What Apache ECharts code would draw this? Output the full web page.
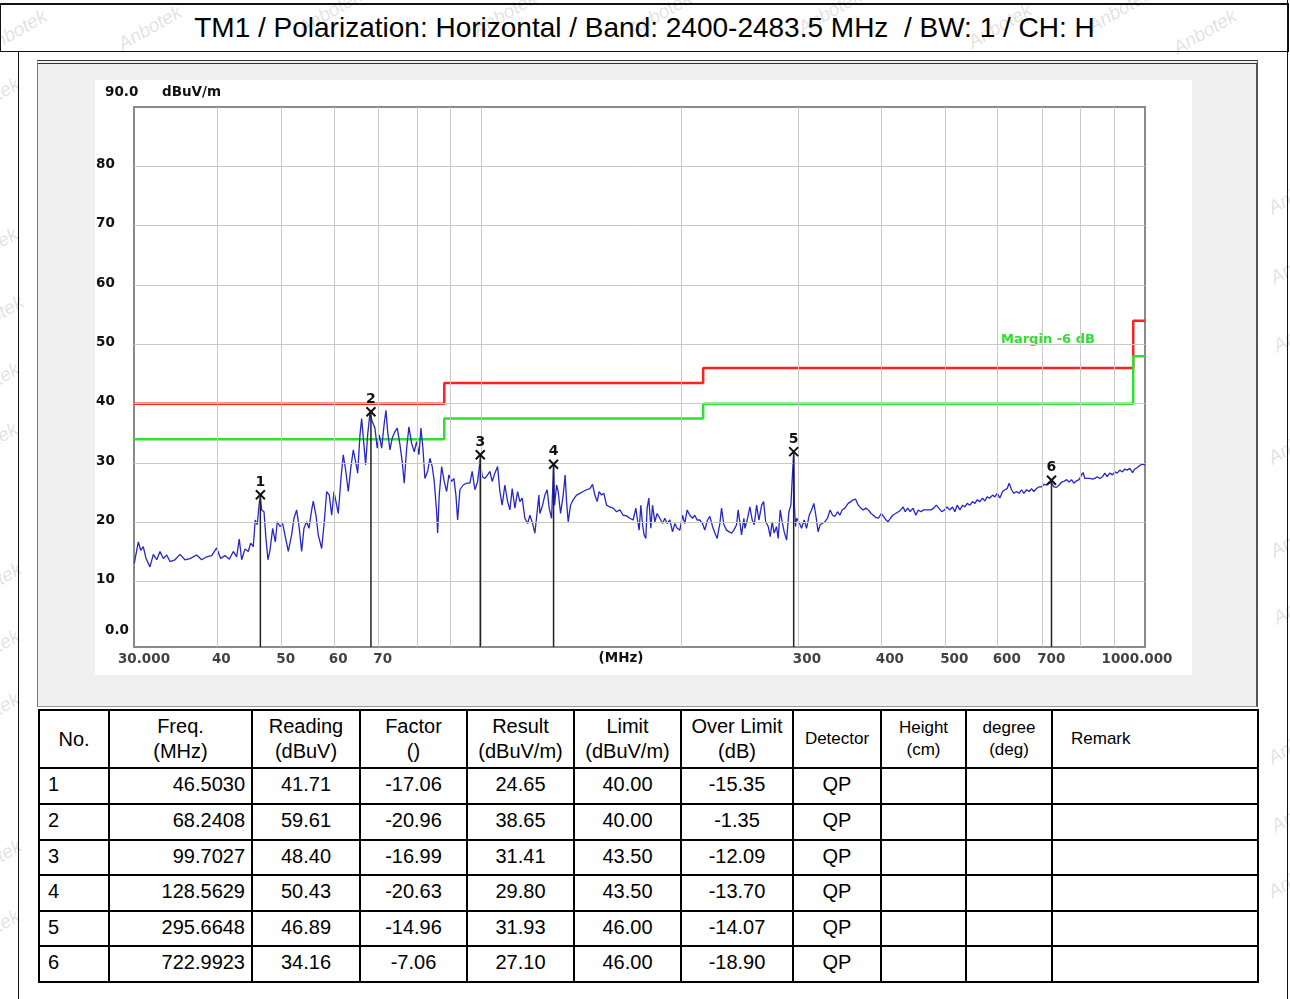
<!DOCTYPE html>
<html>
<head>
<meta charset="utf-8">
<script src="https://cdn.jsdelivr.net/npm/echarts@6/dist/echarts.min.js"></script>
<style>
html,body{margin:0;padding:0;background:#fff;}
body{width:1290px;height:999px;position:relative;overflow:hidden;font-family:'Liberation Sans',Arial,sans-serif;}
.wm{position:absolute;color:rgba(120,120,120,0.22);font:italic 19px 'Liberation Sans',Arial,sans-serif;transform:translate(-50%,-50%) rotate(-30deg);white-space:nowrap;}
#titlebox{position:absolute;left:0;top:3px;width:1289px;height:49px;box-sizing:border-box;border:1px solid #111;border-top:2px solid #111;text-align:center;font-size:28px;line-height:46px;color:#000;white-space:pre;}
.vline{position:absolute;width:0;border-left:1px solid #111;}
#panel{position:absolute;left:37px;top:60px;width:1221px;height:647px;box-sizing:border-box;background:#f0f0f0;border-left:1px solid #777;border-right:2px solid #555;border-top:4px double #333;border-bottom:1px solid #999;}
#inner{position:absolute;left:95px;top:80px;width:1097px;height:595px;background:#fff;}
#chart{position:absolute;left:37px;top:60px;width:1220px;height:646px;}
#tbl{position:absolute;left:38px;top:709px;width:1219px;border-collapse:collapse;table-layout:fixed;font-size:20px;color:#000;background:#fff;}
#tbl td,#tbl th{border:2px solid #000;padding:0;font-weight:normal;overflow:hidden;white-space:nowrap;text-align:center;}
#tbl th{line-height:25px;}
#tbl th.s{font-size:17px;line-height:22px;}
#tbl td{padding-bottom:3px;}
#tbl td.no{text-align:left;padding-left:8px;}
#tbl td.fr{text-align:right;padding-right:6px;}
</style>
</head>
<body>
<div id="wms"></div>
<div id="titlebox">TM1 / Polarization: Horizontal / Band: 2400-2483.5 MHz  / BW: 1 / CH: H</div>
<div class="vline" style="left:18px;top:51px;height:948px;"></div>
<div class="vline" style="left:1287px;top:0;height:999px;"></div>
<div id="panel"></div>
<div id="inner"></div>
<div id="chart"></div>
<table id="tbl"></table>
<script>
// ---------------- data ----------------
const traceData = [
[30.03,13.1],[30.45,16.7],[30.71,15.3],[30.98,15.9],[31.28,13.9],[31.71,12.5],[32.08,14.6],[32.46,13.7],[32.83,15.1],[33.21,13.9],
[33.60,14.5],[33.99,13.4],[34.58,13.7],[35.19,14.6],[35.80,13.7],[36.43,13.9],[37.28,14.5],[37.94,13.7],[38.60,14.2],[39.28,14.4],
[39.96,15.7],[40.52,13.9],[41.13,14.4],[41.75,13.8],[42.33,15.1],[42.83,14.2],[43.22,17.2],[43.58,13.7],[44.08,15.5],[44.59,15.1],
[44.96,16.5],[45.37,15.9],[45.68,20.4],[46.00,19.6],[46.32,23.2],[46.50,24.2],[46.71,22.1],[47.09,21.8],[47.41,17.3],[47.74,13.7],
[48.08,15.3],[48.53,19.0],[48.97,16.7],[49.31,20.1],[49.77,19.3],[50.24,19.8],[50.64,17.9],[51.23,15.1],[51.83,17.9],[52.25,20.7],
[52.74,22.1],[53.22,19.0],[53.66,15.1],[54.09,19.0],[54.60,20.1],[55.04,19.0],[55.56,22.1],[55.87,23.6],[56.39,21.2],[56.84,17.9],
[57.52,15.6],[58.04,20.1],[58.53,25.2],[59.06,24.6],[59.55,21.2],[60.03,25.2],
[60.93,21.5],[61.50,27.4],[61.99,31.4],[62.51,28.8],[63.08,25.2],[63.67,29.4],[64.18,32.2],[64.72,30.2],[65.17,28.3],[65.69,34.7],
[66.07,37.5],[66.53,33.6],[67.00,29.7],[67.46,34.7],[68.00,38.4],[68.55,37.0],[69.19,35.9],[69.75,32.5],[70.24,34.7],[70.82,32.5],
[71.46,36.7],[71.89,38.9],[72.31,35.3],[72.89,32.2],[73.47,34.2],[74.16,35.3],[74.76,35.9],[75.46,33.1],[76.06,30.2],[76.59,26.6],
[77.23,32.5],[77.85,36.1],[78.58,33.3],[79.30,31.9],[79.96,33.6],[80.60,31.4],[81.16,35.9],[81.72,32.5],[82.29,27.4],[83.07,28.6],
[83.73,30.8],[84.40,29.4],[84.99,26.9],[85.70,21.8],[86.00,18.2],[86.48,24.6],[87.20,29.4],[87.99,26.9],[88.72,25.2],[89.43,28.0],
[90.27,26.9],[91.00,27.4],[91.63,24.6],[92.17,20.4],[92.91,25.5],[93.98,26.3],[95.09,26.6],[96.18,26.6],[96.95,28.6],[97.87,25.5],
[98.79,26.9],[99.70,30.6],[100.38,27.7],[101.32,27.4],[102.27,28.0],[103.09,28.6],[103.92,26.9],[104.89,28.3],[105.88,29.4],[106.73,25.2],
[107.58,22.9],[108.59,26.3],[109.62,23.5],[110.50,22.1],[111.38,25.7],[112.43,22.4],[113.48,25.2],[114.39,23.5],[115.31,24.1],[116.39,20.7],
[117.49,19.8],[118.43,21.2],[119.54,19.8],[120.50,18.2],[121.46,21.8],[122.18,24.6],
[122.60,21.5],[123.76,22.9],[124.75,24.6],[125.75,25.5],[126.62,22.4],[127.68,20.7],[128.56,29.5],[129.01,22.9],[129.91,26.3],[130.64,25.2],
[131.73,21.5],[132.92,24.6],[133.84,28.0],[134.50,23.5],[135.24,20.1],[136.37,22.9],[137.61,23.8],[139.24,24.6],[140.84,24.9],[142.46,25.2],
[144.15,25.5],[145.81,25.7],[147.18,26.4],[148.36,24.6],[149.55,23.5],[150.59,25.2],[151.85,24.6],[153.06,24.9],[154.50,22.9],[156.28,22.6],
[158.08,22.4],[159.95,21.8],[161.79,22.1],[163.65,21.2],[165.59,21.1],[167.50,20.7],[169.43,20.4],[171.02,22.4],[172.03,20.4],[172.99,18.7],
[174.01,22.9],[175.04,19.6],[176.01,17.9],[177.05,17.3],[177.85,22.4],[178.90,24.1],[180.15,19.0],[181.21,22.9],[182.66,20.1],[184.12,21.5],
[185.86,20.7],[187.61,19.8],[189.11,20.7],[190.62,19.8],[192.42,20.4],[194.23,18.4],[195.78,19.8],[197.35,19.0],[199.21,18.7],[201.08,21.2],
[202.69,19.8],[204.31,22.1],[206.24,21.2],[208.18,20.7],[209.84,21.2],[211.52,20.4],[213.51,20.4],[215.52,19.8],[217.25,18.7],[219.29,20.4],
[221.05,21.0],[223.13,19.3],[224.97,18.2],[226.74,17.3],[228.88,19.8],[230.23,22.4],[232.07,19.6],[234.26,18.7],[236.38,18.4],[238.36,18.2],
[240.27,18.7],[242.53,19.6],[243.88,22.1],[245.32,21.8],[246.77,17.9],[248.75,20.7],
[249.66,19.0],[252.01,20.7],[254.02,22.6],[256.05,20.4],[257.84,19.6],[260.0,22.9],[262.1,20.4],[264.6,22.9],[266.4,23.5],[268.3,20.1],
[270.7,19.3],[272.6,17.6],[274.4,20.1],[276.3,18.2],[278.6,19.3],[280.2,17.3],[282.2,22.1],[284.1,20.1],[286.1,18.4],[288.5,17.0],
[290.8,21.8],[292.8,22.9],[294.5,28.3],[295.66,31.6],[296.4,22.9],[297.5,19.3],[298.7,20.7],[301.0,20.1],[303.9,19.0],[306.6,20.4],
[309.2,19.0],[312.0,21.2],[314.6,22.1],[317.1,23.2],[319.3,21.2],[321.8,18.4],[324.1,19.6],[326.3,19.8],[329.4,20.1],[332.5,20.7],
[335.5,22.1],[338.4,21.2],[341.1,21.0],[344.3,21.8],[347.0,21.2],[349.8,22.1],[353.1,22.4],[357.2,23.2],[360.6,23.5],[363.5,23.8],
[366.5,23.9],[369.9,22.9],[373.4,22.4],[376.4,22.1],[379.6,22.4],[383.0,22.1],[386.7,21.5],[389.8,21.2],[393.5,20.8],[396.7,20.7],
[400.5,21.5],[403.8,21.0],[407.3,20.4],[410.2,20.1],[413.5,20.7],[416.9,21.2],[421.0,21.5],[425.1,21.8],[428.6,22.1],[432.2,22.6],
[435.4,21.8],[439.2,22.4],[442.9,21.8],[447.3,22.4],[451.6,21.2],[455.6,22.1],[459.5,21.8],[464.2,22.1],[470.0,22.1],[475.8,22.1],
[480.6,22.4],[484.8,22.9],[489.2,22.4],[494.0,21.8],[499.0,22.1],[503.3,22.6],[507.9,22.1],
[513.0,22.6],[517.1,21.8],[521.3,22.9],[526.2,22.1],[531.2,22.9],[535.4,22.6],[539.7,23.2],[544.8,22.9],[549.9,23.5],[554.3,23.2],
[558.7,23.8],[564.0,23.5],[569.3,24.1],[573.8,23.6],[578.4,24.3],[583.9,24.1],[589.4,24.6],[594.1,24.3],[598.9,24.9],[604.5,24.1],
[610.2,25.2],[615.1,25.5],[620.0,25.7],[624.3,26.6],[629.5,25.5],[634.5,24.9],[640.5,25.2],[646.3,24.9],[651.7,25.5],[656.9,24.9],
[663.1,25.5],[669.1,25.2],[674.7,25.7],[680.1,25.2],[686.5,25.7],[692.7,26.0],[698.5,26.0],[704.0,26.4],[710.7,26.3],[717.1,26.6],
[723.1,26.6],[728.9,26.0],[735.7,25.9],[742.4,26.3],[748.6,26.8],[754.6,26.9],[761.7,27.2],[768.6,26.8],[775.0,27.2],[781.2,26.6],
[788.6,27.0],[795.7,27.2],[802.4,28.0],[806.8,28.4],[811.6,27.4],[818.1,27.4],[825.8,27.4],[833.6,27.3],[840.2,27.4],[847.0,27.7],
[854.9,27.4],[863.0,27.7],[869.9,28.3],[876.8,27.7],[885.1,28.3],[893.4,28.0],[900.6,28.5],[907.8,28.3],[916.3,28.8],[924.9,28.5],
[932.3,29.0],[939.8,28.8],[948.7,29.1],[957.6,28.4],[965.3,29.0],[973.0,29.2],[982.1,29.6],[991.3,29.8],[1000,29.7]
];

const limitFreq   = [30, 88, 88, 216, 216, 960, 960, 1000];
const limitLevel  = [40, 40, 43.5, 43.5, 46, 46, 54, 54];
const marginLevel = [34, 34, 37.5, 37.5, 40, 40, 48, 48];

const markerNo     = [1, 2, 3, 4, 5, 6];
const markerFreq   = [46.5030, 68.2408, 99.7027, 128.5629, 295.6648, 722.9923];
const markerRead   = [41.71, 59.61, 48.40, 50.43, 46.89, 34.16];
const markerFactor = [-17.06, -20.96, -16.99, -20.63, -14.96, -7.06];
const markerResult = [24.65, 38.65, 31.41, 29.80, 31.93, 27.10];
const markerLimit  = [40.00, 40.00, 43.50, 43.50, 46.00, 46.00];
const markerOver   = [-15.35, -1.35, -12.09, -13.70, -14.07, -18.90];
const markerDet    = ['QP', 'QP', 'QP', 'QP', 'QP', 'QP'];

const xGridVals  = [40, 50, 60, 70, 80, 90, 100, 200, 300, 400, 500, 600, 700, 800, 900];
const xTickVals  = [30, 40, 50, 60, 70, 300, 400, 500, 600, 700, 1000];
const xTickText  = ['30.000', '40', '50', '60', '70', '300', '400', '500', '600', '700', '1000.000'];
const yGridVals  = [10, 20, 30, 40, 50, 60, 70, 80];
const yTickVals  = [0, 10, 20, 30, 40, 50, 60, 70, 80, 90];
const Y_MIN = -1, Y_MAX = 90;

// ---------------- watermarks ----------------
const wmPos = [[150,28],[330,12],[505,14],[660,14],[830,12],[1000,26],[1120,10],[1205,32],[15,32],
  [-12,100],[-14,250],[-8,318],[-12,385],[-14,445],[-10,585],[-12,652],[-12,715],[-10,862],[-12,932],
  [1300,192],[1302,262],[1305,330],[1300,442],[1302,535],[1305,602],[1300,742],[1303,810],[1300,876]];
const wms = document.getElementById('wms');
wmPos.forEach(p => { const d = document.createElement('div'); d.className = 'wm'; d.textContent = 'Anbotek'; d.style.left = p[0] + 'px'; d.style.top = p[1] + 'px'; wms.appendChild(d); });

// ---------------- table ----------------
const colW = [70, 143, 108, 107, 107, 107, 112, 88, 85, 86, 206];
let html = '<colgroup>' + colW.map(w => '<col style="width:' + w + 'px">').join('') + '</colgroup>';
html += '<tr style="height:58px"><th>No.</th><th>Freq.<br>(MHz)</th><th>Reading<br>(dBuV)</th><th>Factor<br>()</th>' +
  '<th>Result<br>(dBuV/m)</th><th>Limit<br>(dBuV/m)</th><th>Over Limit<br>(dB)</th><th class="s">Detector</th>' +
  '<th class="s">Height<br>(cm)</th><th class="s">degree<br>(deg)</th><th class="s" style="text-align:left;padding-left:18px">Remark</th></tr>';
const rowH = [36, 36, 35, 36, 35, 36];
markerNo.forEach((n, i) => {
  html += '<tr style="height:' + rowH[i] + 'px"><td class="no">' + n + '</td><td class="fr">' + markerFreq[i].toFixed(4) + '</td>' +
    '<td>' + markerRead[i].toFixed(2) + '</td><td>' + markerFactor[i].toFixed(2) + '</td><td>' + markerResult[i].toFixed(2) + '</td>' +
    '<td>' + markerLimit[i].toFixed(2) + '</td><td>' + markerOver[i].toFixed(2) + '</td><td>' + markerDet[i] + '</td>' +
    '<td></td><td></td><td></td></tr>';
});
document.getElementById('tbl').innerHTML = html;

// ---------------- chart ----------------
const chart = echarts.init(document.getElementById('chart'), null, {renderer: 'canvas'});
const FONT = 'DejaVu Sans';
const lblBase = {fontFamily: FONT, fontWeight: 'bold', fontSize: 13.5, color: '#111'};

const xLabelData = xTickVals.map((v, i) => {
  const last = i === xTickVals.length - 1, first = i === 0;
  return {
    value: [v, Y_MIN],
    label: {
      formatter: xTickText[i],
      align: first || last ? 'center' : 'left',
      offset: first ? [10, 12] : last ? [-8, 12] : [-5, 12]
    }
  };
});

const option = {
  animation: false,
  backgroundColor: 'transparent',
  grid: {left: 97, top: 47, width: 1011, height: 540, show: true, backgroundColor: '#ffffff',
         borderColor: '#8a8a8a', borderWidth: 2, outerBoundsMode: 'none', containLabel: false},
  xAxis: {
    type: 'log', logBase: 10, min: 30, max: 1000,
    axisLine: {show: false}, axisTick: {show: false}, axisLabel: {show: false}, splitLine: {show: false},
    name: '(MHz)', nameLocation: 'middle', nameGap: 4,
    nameTextStyle: Object.assign({}, lblBase, {verticalAlign: 'top', align: 'center', padding: [0, 37, 0, 0]})
  },
  yAxis: {
    type: 'value', min: Y_MIN, max: Y_MAX,
    axisLine: {show: false}, axisTick: {show: false, customValues: yTickVals}, splitLine: {show: false},
    axisLabel: {
      customValues: yTickVals, align: 'left', margin: 38,
      formatter: v => v === 90 ? '{t|90.0}' : v === 0 ? '{z|0.0}' : '{n|' + v + '}',
      rich: {
        n: Object.assign({}, lblBase, {padding: [0, 0, 4, 0]}),
        t: Object.assign({}, lblBase, {padding: [0, 0, 30, 9]}),
        z: Object.assign({}, lblBase, {padding: [0, 0, 22, 9]})
      }
    },
    name: 'dBuV/m', nameLocation: 'end', nameGap: 15,
    nameTextStyle: Object.assign({}, lblBase, {align: 'left', verticalAlign: 'middle', padding: [0, 0, 0, 28]})
  },
  graphic: [{
    type: 'text', left: 964, top: 273, silent: true,
    style: {text: 'Margin -6 dB', fill: '#2fe02f', font: 'bold 13px "DejaVu Sans"'}
  }],
  series: [
    { // grid lines
      type: 'line', data: [], silent: true, z: 1,
      markLine: {
        silent: true, animation: false, symbol: ['none', 'none'], label: {show: false},
        lineStyle: {color: '#c8c8c8', width: 1, type: 'solid'},
        emphasis: {disabled: true},
        data: xGridVals.map(v => ({xAxis: v})).concat(yGridVals.map(v => ({yAxis: v})))
      }
    },
    {
      name: 'Limit', type: 'line', z: 3, showSymbol: false, silent: true,
      data: limitFreq.map((f, i) => [f, limitLevel[i]]),
      lineStyle: {color: '#ff2020', width: 2.5}
    },
    {
      name: 'Margin', type: 'line', z: 3, showSymbol: false, silent: true,
      data: limitFreq.map((f, i) => [f, marginLevel[i]]),
      lineStyle: {color: '#2fe02f', width: 2.5}
    },
    {
      name: 'Trace', type: 'line', z: 4, showSymbol: false, silent: true,
      data: traceData,
      lineStyle: {color: '#2626c8', width: 1.3}
    },
    {
      name: 'Markers', type: 'custom', z: 5, silent: true,
      data: markerNo.map((n, i) => [markerFreq[i], markerResult[i], n]),
      renderItem: (params, api) => {
        const p = api.coord([api.value(0), api.value(1)]);
        const b = api.coord([api.value(0), Y_MIN]);
        const s = 4.5;
        const st = {stroke: '#111', lineWidth: 2};
        return {type: 'group', children: [
          {type: 'line', shape: {x1: p[0], y1: p[1], x2: b[0], y2: b[1]}, style: {stroke: '#222', lineWidth: 1.5}},
          {type: 'line', shape: {x1: p[0] - s, y1: p[1] - s, x2: p[0] + s, y2: p[1] + s}, style: st},
          {type: 'line', shape: {x1: p[0] - s, y1: p[1] + s, x2: p[0] + s, y2: p[1] - s}, style: st},
          {type: 'text', x: p[0], y: p[1] - s - 1,
           style: {text: String(api.value(2)), fill: '#111', font: 'bold 14px "DejaVu Sans"', align: 'center', verticalAlign: 'bottom'}}
        ]};
      }
    },
    {
      name: 'xTicks', type: 'scatter', z: 6, silent: true, clip: false,
      symbol: 'circle', symbolSize: 1, itemStyle: {color: 'rgba(0,0,0,0)'},
      label: Object.assign({show: true, position: 'inside', verticalAlign: 'middle'}, lblBase),
      data: xLabelData
    }
  ]
};
chart.setOption(option);
</script>
</body>
</html>
